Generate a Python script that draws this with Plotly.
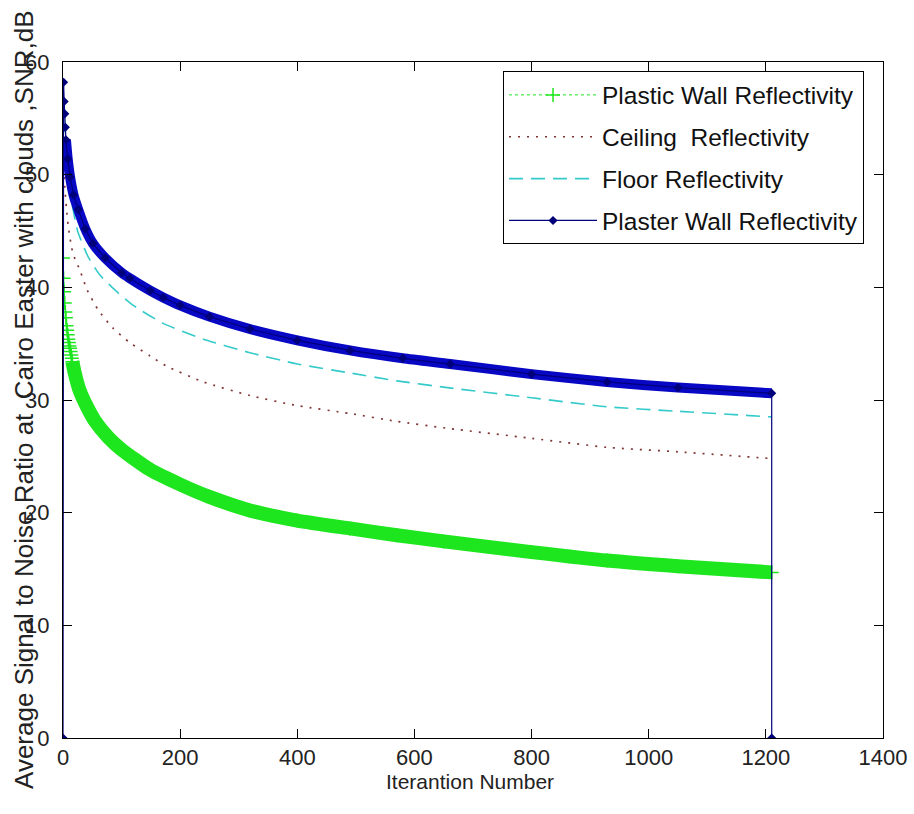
import plotly.graph_objects as go

# Iteration number and average SNR (dB) for each reflecting surface
plastic_iter = [0, 1, 2, 3, 4, 5, 6, 7, 8, 9, 10, 11, 12, 13, 14, 15, 16,
                20, 28, 41, 55, 77, 100, 149, 200, 250, 319, 400, 490, 570,
                650, 800, 929, 1050, 1210]
plastic_snr = [42.6, 40.8, 39.6, 38.6, 37.8, 37.3, 36.6, 36.2, 35.8, 35.4,
               35.1, 34.8, 34.6, 34.3, 34.0, 33.7, 33.4,
               32.4, 30.9, 29.4, 28.1, 26.7, 25.6, 23.8, 22.5, 21.4, 20.2,
               19.3, 18.6, 18.0, 17.45, 16.5, 15.75, 15.25, 14.7]

ceiling_iter = [1, 3, 6, 9, 17, 29, 41, 60, 85, 114, 149, 177, 240, 319,
                400, 490, 570, 655, 800, 929, 1050, 1210]
ceiling_snr = [53.0, 49.0, 47.0, 45.4, 43.0, 41.5, 39.8, 38.0, 36.4, 35.1,
               33.9, 33.0, 31.6, 30.4, 29.5, 28.8, 28.1, 27.5, 26.6, 25.8,
               25.4, 24.8]

floor_iter = [1, 3, 6, 10, 15, 25, 43, 63, 90, 120, 171, 240, 319, 400, 490,
              570, 656, 800, 929, 1050, 1210]
floor_snr = [55.0, 52.5, 50.5, 49.0, 47.5, 45.0, 42.7, 41.1, 39.7, 38.4,
             36.8, 35.4, 34.2, 33.2, 32.4, 31.7, 31.1, 30.2, 29.4, 29.0, 28.5]

plaster_iter = [0, 1, 2, 3, 4, 5, 8, 12, 18, 26, 38, 51, 72, 100, 114, 149,
                171, 200, 250, 319, 400, 490, 580, 661, 800, 929, 1050, 1210,
                1210]
plaster_snr = [0, 58.2, 56.5, 55.4, 54.2, 53.1, 51.4, 49.8, 48.2, 46.9, 45.2,
               43.9, 42.6, 41.3, 40.8, 39.7, 39.1, 38.4, 37.4, 36.3, 35.3,
               34.4, 33.7, 33.2, 32.3, 31.6, 31.1, 30.6, 0]

x_ticks = [0, 200, 400, 600, 800, 1000, 1200, 1400]
y_ticks = [0, 10, 20, 30, 40, 50, 60]

GREEN = "#1ee61e"
RED = "#7e3434"
CYAN = "#35caca"
BLUE = "#0707c4"
NAVY = "#00007a"

FONT = "Liberation Sans, Arial, sans-serif"

fig = go.Figure()

# dense-marker bands (individual markers overlap into a solid stroke)
pk = plastic_iter.index(16)
fig.add_trace(go.Scatter(
    x=plastic_iter[pk:], y=plastic_snr[pk:], mode="lines",
    line=dict(color=GREEN, width=14, shape="spline", smoothing=0.6),
    legendgroup="plastic", showlegend=False, hoverinfo="skip"))

fig.add_trace(go.Scatter(
    x=plastic_iter, y=plastic_snr, mode="lines+markers",
    name="Plastic Wall Reflectivity", legendgroup="plastic",
    line=dict(color=GREEN, width=1, dash="dot"),
    marker=dict(symbol="cross-thin", size=10, line=dict(color=GREEN, width=1.5))))

fig.add_trace(go.Scatter(
    x=ceiling_iter, y=ceiling_snr, mode="lines",
    name="Ceiling  Reflectivity", legendgroup="ceiling",
    line=dict(color=RED, width=1.7, dash="2px,7px", shape="spline", smoothing=0.6)))

fig.add_trace(go.Scatter(
    x=floor_iter, y=floor_snr, mode="lines",
    name="Floor Reflectivity", legendgroup="floor",
    line=dict(color=CYAN, width=1.6, dash="14px,8px", shape="spline", smoothing=0.6)))

bk = plaster_iter.index(5)
fig.add_trace(go.Scatter(
    x=plaster_iter[bk:-1], y=plaster_snr[bk:-1], mode="lines",
    line=dict(color=BLUE, width=10, shape="spline", smoothing=0.6),
    legendgroup="plaster", showlegend=False, hoverinfo="skip"))

fig.add_trace(go.Scatter(
    x=plaster_iter, y=plaster_snr, mode="lines+markers",
    name="Plaster Wall Reflectivity", legendgroup="plaster",
    line=dict(color=NAVY, width=1.2),
    marker=dict(symbol="diamond", size=7, color=NAVY)))

axis_common = dict(
    showgrid=False, zeroline=False, showline=True, linecolor="black",
    linewidth=1, mirror="ticks", ticks="inside", ticklen=9,
    tickcolor="black", automargin=False,
    tickfont=dict(family=FONT, size=22, color="#222"),
)

fig.update_layout(
    width=914, height=814,
    margin=dict(l=63, r=31, t=62, b=76),
    paper_bgcolor="white", plot_bgcolor="white",
    xaxis=dict(range=[0, 1400], tickvals=x_ticks, ticklabelstandoff=0, **axis_common),
    yaxis=dict(range=[0, 60], tickvals=y_ticks, ticklabelstandoff=8, **axis_common),
    legend=dict(
        x=0.5366, y=0.986, xanchor="left", yanchor="top",
        bgcolor="white", bordercolor="black", borderwidth=1,
        font=dict(family=FONT, size=24.5, color="#111"),
        traceorder="grouped", tracegroupgap=7,
        itemwidth=88,
    ),
    annotations=[
        dict(text="Iterantion Number", xref="paper", yref="paper",
             x=0.496, y=-0.064, xanchor="center", yanchor="middle",
             showarrow=False, font=dict(family=FONT, size=21, color="#222")),
        dict(text="Average Signal to Noise Ratio at  Cairo Easter with clouds ,SNR,dB",
             xref="paper", yref="paper", x=-0.0476, y=0.5,
             xanchor="center", yanchor="middle", textangle=-90,
             showarrow=False, font=dict(family=FONT, size=26, color="#222")),
    ],
)

fig.write_html("out.html")
